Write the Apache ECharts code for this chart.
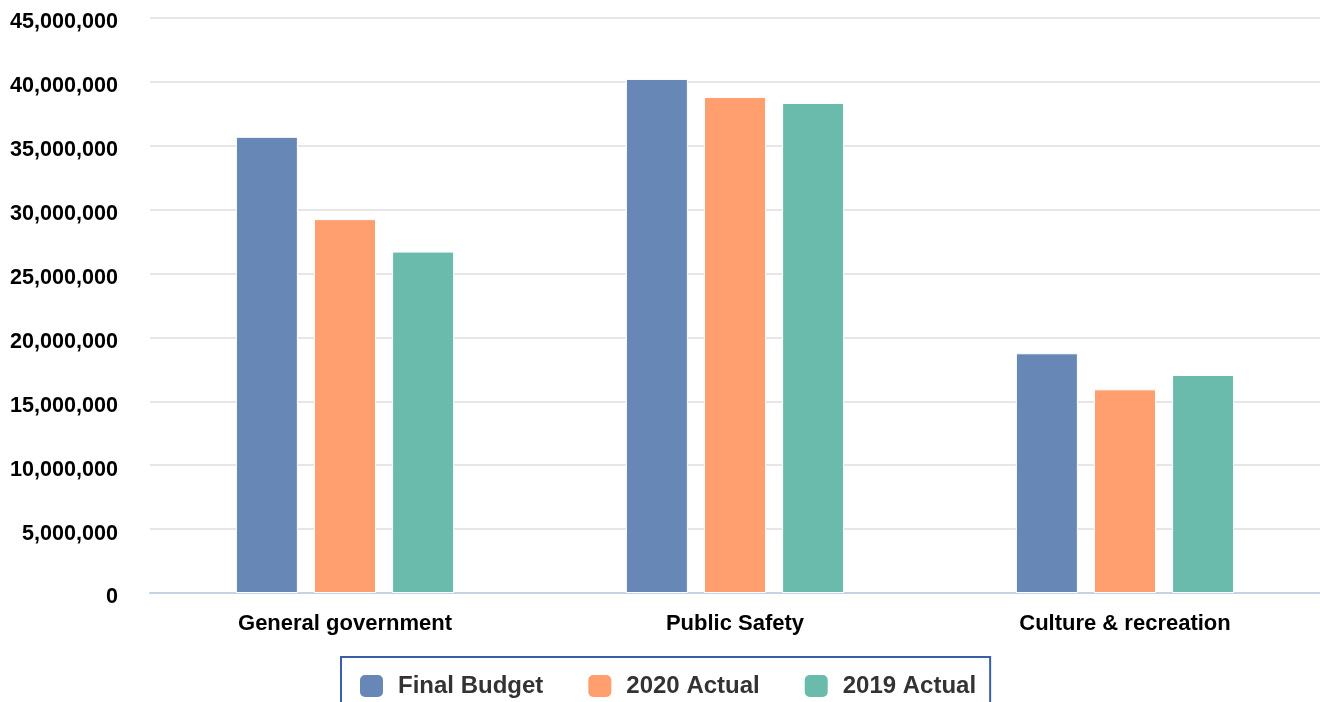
<!DOCTYPE html>
<html><head><meta charset="utf-8">
<script src="https://cdn.jsdelivr.net/npm/echarts@6/dist/echarts.min.js"></script>
<style>html,body{margin:0;padding:0;background:#fff}#c{width:1320px;height:702px}</style>
</head><body><div id="c"></div>
<script>
const categories = ['General government', 'Public Safety', 'Culture & recreation'];
const seriesNames = ['Final Budget', '2020 Actual', '2019 Actual'];
const finalBudget = [35700000, 40230000, 18760000];
const actual2020 = [29260000, 38820000, 15940000];
const actual2019 = [26720000, 38350000, 17060000];
const colors = ['#6788b7', '#ff9e6e', '#6bbbad'];

const chart = echarts.init(document.getElementById('c'));
const font = '"Liberation Sans", Arial, sans-serif';
const mk = (name, data, color) => ({
  name, type: 'bar', data, barWidth: 62, barGap: '26%',
  itemStyle: { color, borderColor: '#ffffff', borderWidth: 1 }
});
chart.setOption({
  animation: false,
  color: colors,
  grid: { left: 150, right: 0, top: 18, bottom: 109, containLabel: false },
  xAxis: {
    type: 'category', data: categories,
    axisLine: { lineStyle: { color: '#c7d2e3', width: 2 } },
    axisTick: { show: false },
    axisLabel: { color: '#000', fontFamily: font, fontWeight: 'bold', fontSize: 22, margin: 20 }
  },
  yAxis: {
    type: 'value', min: 0, max: 45000000, interval: 5000000,
    axisLine: { show: false }, axisTick: { show: false },
    splitLine: { lineStyle: { color: '#e6e6e6', width: 2 } },
    axisLabel: {
      color: '#000', fontFamily: font, fontWeight: 'bold', fontSize: 21.6, margin: 32,
      verticalAlign: 'top', lineHeight: 9,
      formatter: v => v.toLocaleString('en-US')
    }
  },
  legend: {
    left: 341, top: 657,
    data: seriesNames,
    icon: 'roundRect', itemWidth: 25, itemHeight: 24, itemGap: 43,
    padding: [16, 14, 10, 17],
    borderColor: '#3a5ea8', borderWidth: 2,
    textStyle: { color: '#333', fontFamily: font, fontWeight: 'bold', fontSize: 24, padding: [0, 0, 0, 9] }
  },
  series: [
    mk(seriesNames[0], finalBudget, colors[0]),
    mk(seriesNames[1], actual2020, colors[1]),
    mk(seriesNames[2], actual2019, colors[2])
  ]
});
</script></body></html>
